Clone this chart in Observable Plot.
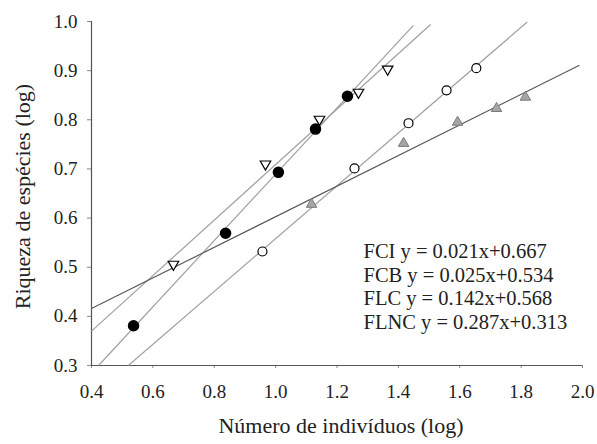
<!DOCTYPE html>
<html>
<head>
<meta charset="utf-8">
<script src="https://cdn.jsdelivr.net/npm/d3@7"></script>
<script src="https://cdn.jsdelivr.net/npm/@observablehq/plot@0.6"></script>
<style>
  html, body { margin: 0; padding: 0; background: #fff; }
  #chart { width: 597px; height: 444px; }
</style>
</head>
<body>
<div id="chart"></div>
<script>
// ---- data ----
const filledX = [0.537, 0.837, 1.009, 1.130, 1.234];
const filledY = [0.381, 0.569, 0.693, 0.781, 0.848];
const openTriX = [0.667, 0.967, 1.143, 1.270, 1.365];
const openTriY = [0.506, 0.710, 0.801, 0.856, 0.903];
const openCircX = [0.957, 1.257, 1.433, 1.557, 1.654];
const openCircY = [0.532, 0.701, 0.793, 0.860, 0.905];
const grayTriX = [1.117, 1.417, 1.593, 1.720, 1.814];
const grayTriY = [0.628, 0.752, 0.795, 0.823, 0.846];

// fitted lines: start and end points (filled, openTri, openCirc, grayTri)
const fitSeries = ["filled", "openTri", "openCirc", "grayTri"];
const fitX0 = [0.423, 0.400, 0.520, 0.400];
const fitY0 = [0.300, 0.370, 0.300, 0.416];
const fitX1 = [1.449, 1.505, 1.820, 1.990];
const fitY1 = [0.992, 0.994, 0.999, 0.911];

const equations = [
  "FCI y = 0.021x+0.667",
  "FCB y = 0.025x+0.534",
  "FLC y = 0.142x+0.568",
  "FLNC y = 0.287x+0.313"
];
const xTicks = [0.4, 0.6, 0.8, 1.0, 1.2, 1.4, 1.6, 1.8, 2.0];
const yTicks = [0.3, 0.4, 0.5, 0.6, 0.7, 0.8, 0.9, 1.0];
const xTitle = "Número de indivíduos (log)";
const yTitle = "Riqueza de espécies (log)";

// ---- tables ----
const pts = (xs, ys) => xs.map((x, i) => ({x, y: ys[i]}));
const filled = pts(filledX, filledY);
const openTri = pts(openTriX, openTriY);
const openCirc = pts(openCircX, openCircY);
const grayTri = pts(grayTriX, grayTriY);
const fits = fitSeries.map((s, i) => ({s, x1: fitX0[i], y1: fitY0[i], x2: fitX1[i], y2: fitY1[i]}));
const fmt = d3.format(".1f");

const chart = Plot.plot({
  width: 597,
  height: 444,
  marginLeft: 91,
  marginRight: 15,
  marginTop: 21,
  marginBottom: 79,
  style: {
    fontFamily: "'Liberation Serif', 'Times New Roman', serif",
    fontSize: "19px",
    background: "white",
    color: "#222"
  },
  x: {domain: [0.4, 2.0]},
  y: {domain: [0.3, 1.0]},
  marks: [
    Plot.axisX(xTicks, {tickSize: 3, tickPadding: 16, tickFormat: fmt, label: null, stroke: "#888", fill: "#222"}),
    Plot.axisY(yTicks, {tickSize: 4, tickPadding: 10, tickFormat: fmt, label: null, stroke: "#888", fill: "#222"}),
    Plot.ruleY([0.3], {stroke: "#555", strokeWidth: 1.2}),
    Plot.ruleX([0.4], {stroke: "#555", strokeWidth: 1.2}),
    Plot.link(fits, {
      x1: "x1", y1: "y1", x2: "x2", y2: "y2",
      stroke: d => d.s === "grayTri" ? "#5a5a5a" : "#a0a0a0",
      strokeWidth: 1.2
    }),
    Plot.dot(filled, {x: "x", y: "y", r: 5, fill: "black", stroke: "black"}),
    Plot.dot(openCirc, {x: "x", y: "y", r: 4.5, fill: "white", stroke: "black", strokeWidth: 1.2}),
    Plot.dot(openTri, {x: "x", y: "y", symbol: "triangle", r: 3.9, rotate: 180, fill: "white", stroke: "black", strokeWidth: 1.2}),
    Plot.dot(grayTri, {x: "x", y: "y", symbol: "triangle", r: 3.9, fill: "#a6a6a6", stroke: "#7a7a7a", strokeWidth: 1}),
    Plot.text([equations.join("\n")], {
      frameAnchor: "top-left", dx: 272, dy: 219,
      textAnchor: "start", lineAnchor: "top", lineHeight: 1.17,
      fontSize: 20.5, fill: "#222"
    }),
    Plot.text([xTitle], {frameAnchor: "bottom", dx: 4, dy: 60, textAnchor: "middle", lineAnchor: "middle", fontSize: 22, fill: "#222"}),
    Plot.text([yTitle], {frameAnchor: "left", dx: -69, dy: 3, rotate: -90, textAnchor: "middle", lineAnchor: "middle", fontSize: 22, fill: "#222"})
  ]
});
document.getElementById("chart").appendChild(chart);
</script>
</body>
</html>
